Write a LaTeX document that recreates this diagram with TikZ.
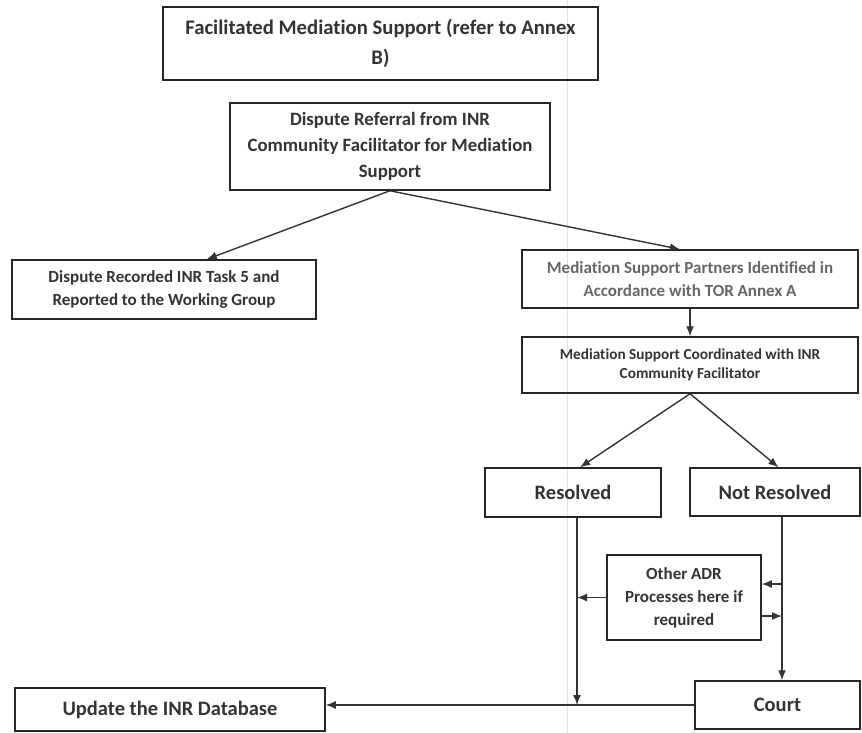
\documentclass[tikz,border=0pt]{standalone}
\usepackage{fontspec}
\setmainfont{Carlito}[RawFeature=-liga]
\usetikzlibrary{arrows.meta,calc}
\begin{document}
\begin{tikzpicture}[x=1pt,y=-1pt,
  box/.style={draw=black!85,line width=1.5pt,inner sep=0pt,align=center,text=black!80},
  arr/.style={draw=black!80,line width=1.4pt,-{Latex[length=10pt,width=8pt]}},
  fa/.style={font=\fontsize{20.7}{30}\selectfont\bfseries},
  fb/.style={font=\fontsize{18.8}{26}\selectfont\bfseries},
  fc/.style={font=\fontsize{17}{23}\selectfont\bfseries},
  fd/.style={font=\fontsize{15.3}{19}\selectfont\bfseries},
  fe/.style={font=\fontsize{20.5}{24}\selectfont\bfseries}]
\useasboundingbox (0,0) rectangle (862,733);
\draw[gray!22,line width=1pt] (567,0) -- (567,733);
\node[box,fa,minimum width=435pt,minimum height=73pt] (fac) at (380.5,43.5) {Facilitated Mediation Support (refer to Annex\\B)};
\node[box,fb,minimum width=320pt,minimum height=87pt] (dref) at (390,146.5) {Dispute Referral from INR\\Community Facilitator for Mediation\\Support};
\node[box,fc,minimum width=304pt,minimum height=59pt] (drec) at (164,289.5) {Dispute Recorded INR Task 5 and\\Reported to the Working Group};
\node[box,fc,text=black!60,minimum width=336pt,minimum height=58pt] (part) at (690,279) {Mediation Support Partners Identified in\\Accordance with TOR Annex A};
\node[box,fd,minimum width=336pt,minimum height=56pt] (coord) at (690,365) {Mediation Support Coordinated with INR\\Community Facilitator};
\node[box,fe,minimum width=176pt,minimum height=49pt] (res) at (573,492.5) {Resolved};
\node[box,fe,minimum width=170pt,minimum height=48pt] (nres) at (775,492) {Not Resolved};
\node[box,fc,minimum width=154pt,minimum height=85pt] (adr) at (684,597.5) {Other ADR\\Processes here if\\required};
\node[box,fe,minimum width=165pt,minimum height=48pt] (court) at (777.5,705) {Court};
\node[box,fe,minimum width=310pt,minimum height=43pt] (upd) at (170,709.5) {Update the INR Database};
\coordinate (rx) at (577,705);
\coordinate (nx) at (782,600);
\coordinate (a1) at (782,584);
\coordinate (a2) at (782,616);
\draw[arr] (dref.south) -- ($(drec.north west)!0.64!(drec.north east)$);
\draw[arr] (dref.south) -- ($(part.north west)!0.47!(part.north east)$);
\draw[arr] (part.south) -- (coord.north);
\draw[arr] (coord.south) -- ($(res.north west)!0.54!(res.north east)$);
\draw[arr] (coord.south) -- ($(nres.north west)!0.52!(nres.north east)$);
\draw[arr] (res.south -| rx) -- (rx);
\draw[arr] (nres.south -| nx) -- (court.north -| nx);
\draw[arr] (adr.west) -- (adr.west -| rx);
\draw[arr] (a1) -- (adr.east |- a1);
\draw[arr] (adr.east |- a2) -- (a2);
\draw[arr] (court.west) -- (upd.east |- court.west);
\end{tikzpicture}
\end{document}
